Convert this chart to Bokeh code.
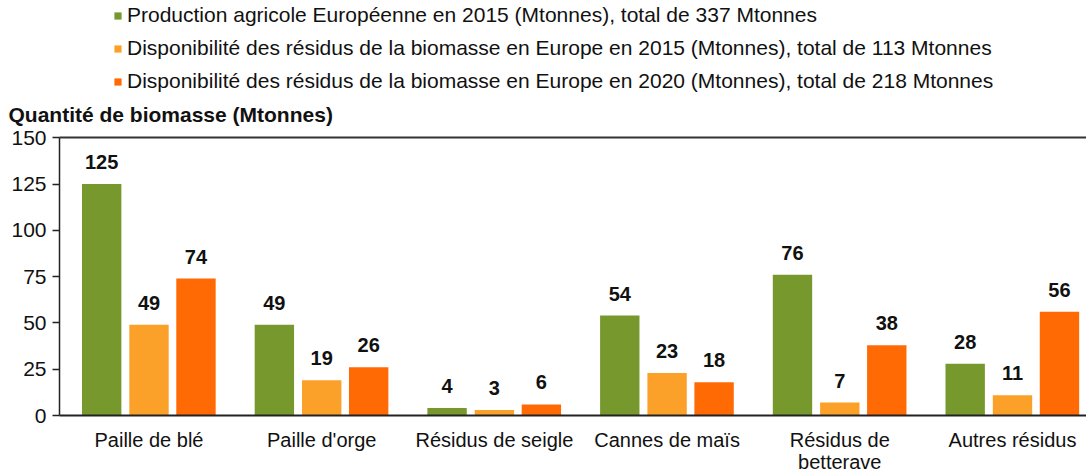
from bokeh.plotting import figure
from bokeh.models import Range1d, FixedTicker, LabelSet, ColumnDataSource, Label, LinearAxis
from bokeh.core.properties import value
from bokeh.embed import file_html
from bokeh.resources import INLINE

# ---- data ----
categories = ["Paille de blé", "Paille d'orge", "Résidus de seigle",
              "Cannes de maïs", "Résidus de\nbetterave", "Autres résidus"]
production_2015 = [125, 49, 4, 54, 76, 28]
residus_2015 = [49, 19, 3, 23, 7, 11]
residus_2020 = [74, 26, 6, 18, 38, 56]
series_names = [
    "Production agricole Européenne en 2015 (Mtonnes), total de 337 Mtonnes",
    "Disponibilité des résidus de la biomasse en Europe en 2015 (Mtonnes), total de 113 Mtonnes",
    "Disponibilité des résidus de la biomasse en Europe en 2020 (Mtonnes), total de 218 Mtonnes",
]
y_ticks = [0, 25, 50, 75, 100, 125, 150]
y_max = 150
y_title = "Quantité de biomasse (Mtonnes)"

# ---- style / layout ----
colors = ["#77982C", "#FBA12A", "#FF6A04"]
offsets = [-0.274, 0.0, 0.272]
bar_width = 0.228
FONT = "Liberation Sans"

W = 1086
FRAME_H = 474
ZERO_PX = 415          # page y of value 0
PX_PER_UNIT = 277.7 / 150
GROUP_PX = 172.7
FIRST_CENTER_PX = 148.5
AXIS_X_PX = 59
TITLE_Y_PX = 114

def x_of(px):
    return (px - FIRST_CENTER_PX) / GROUP_PX

def y_of(px):
    return (ZERO_PX - px) / PX_PER_UNIT

x_start, x_end = x_of(0), x_of(W)
y_start, y_end = y_of(FRAME_H), y_of(0)
axis_x = x_of(AXIS_X_PX)

p = figure(frame_width=W, frame_height=FRAME_H,
           x_range=Range1d(x_start, x_end), y_range=Range1d(y_start, y_end),
           output_backend="svg", toolbar_location=None,
           min_border_left=0, min_border_right=0, min_border_top=0, min_border_bottom=0)
p.outline_line_color = None
p.xgrid.grid_line_color = None
p.ygrid.grid_line_color = None
p.background_fill_color = "white"
p.border_fill_color = "white"

all_series = [production_2015, residus_2015, residus_2020]
for vals, col, off, name in zip(all_series, colors, offsets, series_names):
    xs = [i + off for i in range(len(categories))]
    src = ColumnDataSource(dict(x=xs, top=vals, lab=[str(v) for v in vals]))
    p.vbar(x="x", top="top", bottom=0, width=bar_width, source=src, fill_color=col,
           line_color=None, legend_label=name)
    p.add_layout(LabelSet(x="x", y="top", text="lab", source=src,
                          text_align="center", text_baseline="middle", y_offset=22,
                          text_font=value(FONT), text_font_size="20px", text_font_style="bold",
                          text_color="#111111"))

# y axis, fixed at the left edge of the chart area
yax = p.yaxis[0]
yax.fixed_location = axis_x
yax.ticker = FixedTicker(ticks=y_ticks)
yax.bounds = (0, y_max)
yax.minor_tick_line_color = None
yax.major_tick_in = 0
yax.major_tick_out = 7
yax.major_label_standoff = 6
yax.major_label_text_font = FONT
yax.major_label_text_font_size = "21px"
yax.major_label_text_color = "#111111"
yax.axis_line_color = "#222222"
yax.axis_line_width = 1.5
yax.major_tick_line_color = "#222222"
yax.major_tick_line_width = 1.5

# x axis, fixed at value 0
xax = p.xaxis[0]
xax.fixed_location = 0
xax.bounds = (axis_x, x_end)
xax.ticker = FixedTicker(ticks=list(range(len(categories))))
xax.major_label_overrides = {i: c for i, c in enumerate(categories)}
xax.minor_tick_line_color = None
xax.major_tick_line_color = None
xax.major_tick_in = 0
xax.major_tick_out = 0
xax.major_label_standoff = 13
xax.major_label_text_font = FONT
xax.major_label_text_font_size = "20px"
xax.major_label_text_line_height = 1.02
xax.major_label_text_color = "#111111"
xax.axis_line_color = "#222222"
xax.axis_line_width = 2

# top border line at 150 (an axis line without ticks or labels)
top_ax = LinearAxis(fixed_location=y_max, bounds=(axis_x, x_end),
                    ticker=FixedTicker(ticks=[]), major_label_text_font_size="0px",
                    major_tick_line_color=None, minor_tick_line_color=None,
                    axis_line_color="#333333", axis_line_width=2)
p.add_layout(top_ax, "above")

# y title
p.add_layout(Label(x=x_of(8), y=y_of(TITLE_Y_PX),
                   text=y_title, text_font=FONT, text_font_size="21px",
                   text_font_style="bold", text_baseline="middle", text_align="left",
                   text_color="#111111"))

# legend
lg = p.legend[0]
lg.location = (113, FRAME_H - 93)
lg.border_line_color = None
lg.background_fill_alpha = 0
lg.padding = 0
lg.margin = 0
lg.glyph_width = 9
lg.glyph_height = 9
lg.label_standoff = 5
lg.label_height = 22
lg.spacing = 9
lg.label_text_font = FONT
lg.label_text_font_size = "21px"
lg.label_text_color = "#111111"

open("out.html", "w").write(file_html(p, INLINE))
